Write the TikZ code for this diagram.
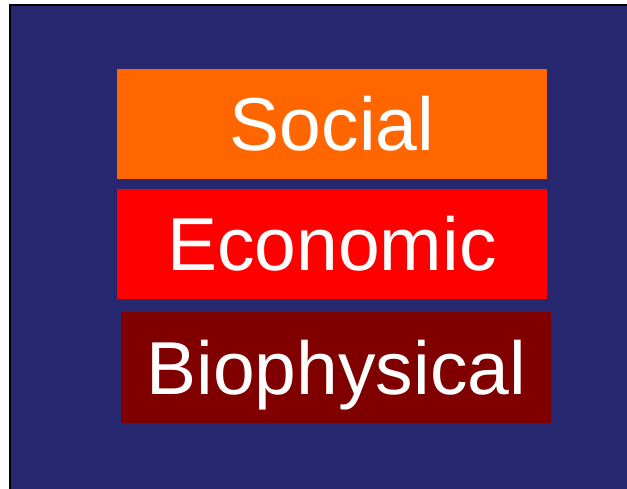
\documentclass[tikz,border=0pt]{standalone}
\usepackage{fontspec}
\setmainfont{Liberation Sans}
\definecolor{slideblue}{RGB}{39,39,112}
\definecolor{socialorange}{RGB}{255,102,0}
\definecolor{econred}{RGB}{255,0,0}
\definecolor{biored}{RGB}{128,0,0}
\begin{document}
\begin{tikzpicture}[x=1pt,y=-1pt,
    layer/.style={minimum width=430pt,minimum height=110pt,inner sep=0pt,
      text=white,text height=53.7pt,text depth=0pt,
      font=\fontsize{75}{75}\selectfont}]
  \useasboundingbox (0,0) rectangle (627,489);
  \draw[line width=2pt,fill=slideblue] (10,5.5) rectangle (640,500);
  \node[layer,fill=socialorange] (social) at (332,123.7) {Social};
  \node[layer,fill=econred] (economic) at (332,243.8) {Economic};
  \node[layer,fill=biored] (biophysical) at (336.3,367.5) {Biophysical};
\end{tikzpicture}
\end{document}
